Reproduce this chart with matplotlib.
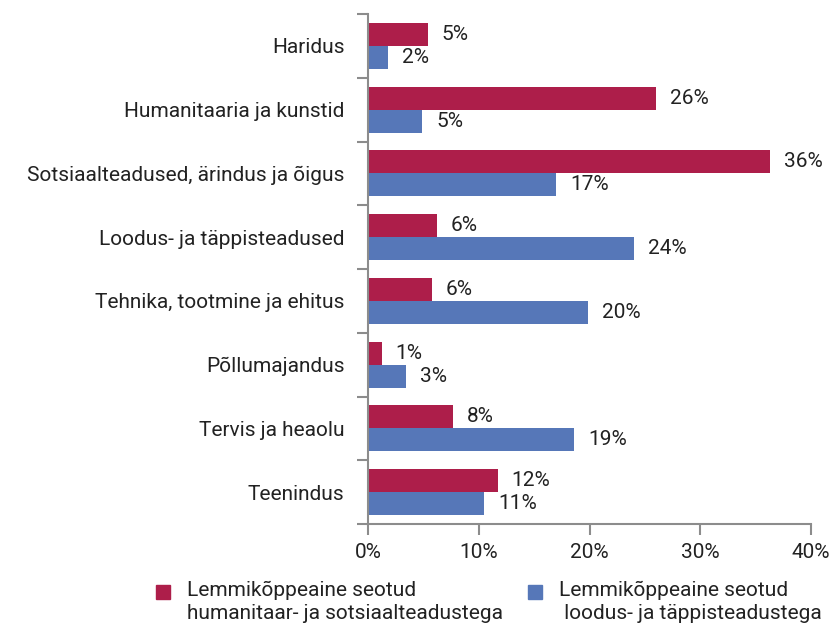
import numpy as np
import matplotlib
matplotlib.use("Agg")
import matplotlib.pyplot as plt
from matplotlib.patches import Rectangle
from matplotlib.ticker import FixedLocator

categories = [
    "Haridus",
    "Humanitaaria ja kunstid",
    "Sotsiaalteadused, ärindus ja õigus",
    "Loodus- ja täppisteadused",
    "Tehnika, tootmine ja ehitus",
    "Põllumajandus",
    "Tervis ja heaolu",
    "Teenindus",
]
hum_values = [5.4, 26.0, 36.3, 6.2, 5.75, 1.24, 7.65, 11.7]
nat_values = [1.8, 4.9, 17.0, 24.0, 19.9, 3.4, 18.6, 10.5]
hum_labels = ["5%", "26%", "36%", "6%", "6%", "1%", "8%", "12%"]
nat_labels = ["2%", "5%", "17%", "24%", "20%", "3%", "19%", "11%"]
series_names = [
    "Lemmikõppeaine seotud\nhumanitaar- ja sotsiaalteadustega",
    "Lemmikõppeaine seotud\n loodus- ja täppisteadustega",
]
xticks = [0, 10, 20, 30, 40]

RED = "#ad1e4a"
BLUE = "#5677b8"
GREY = "#8c8c8c"
TEXT = "#222222"
FS = 15

plt.rcParams["font.family"] = ["Roboto", "DejaVu Sans"]
plt.rcParams["font.size"] = FS

W, H = 831, 629
fig = plt.figure(figsize=(W / 100, H / 100), dpi=100)
ax = fig.add_axes([368 / W, 1 - 524 / H, 443 / W, 510 / H])

n = len(categories)
pos = np.arange(n)
h = 0.36
bars_h = ax.barh(pos - h / 2, hum_values, height=h, color=RED)
bars_n = ax.barh(pos + h / 2, nat_values, height=h, color=BLUE)
ax.bar_label(bars_h, labels=hum_labels, padding=10, color=TEXT, fontsize=FS)
ax.bar_label(bars_n, labels=nat_labels, padding=10, color=TEXT, fontsize=FS)

ax.set_ylim(n - 0.5, -0.5)
ax.set_xlim(0, 40)
ax.set_xticks(xticks)
ax.set_xticklabels([f"{t}%" for t in xticks], color=TEXT)

# category boundaries as major ticks, names on minor ticks
ax.yaxis.set_major_locator(FixedLocator(np.arange(-0.5, n, 1.0)))
ax.yaxis.set_major_formatter(plt.NullFormatter())
ax.yaxis.set_minor_locator(FixedLocator(pos))
ax.set_yticklabels(categories, minor=True, color=TEXT)
ax.tick_params(axis="y", which="minor", length=0, pad=17)
ax.tick_params(axis="y", which="major", length=8, width=1.5, color=GREY)
ax.tick_params(axis="x", length=8, width=1.5, color=GREY, pad=6)

for side in ["top", "right"]:
    ax.spines[side].set_visible(False)
for side in ["left", "bottom"]:
    ax.spines[side].set_color(GREY)
    ax.spines[side].set_linewidth(1.5)

# legend: square next to the first line of a two-line label
for (sx, tx), color, name in zip([(156, 187), (528, 559)], [RED, BLUE], series_names):
    fig.add_artist(Rectangle((sx / W, 1 - 599 / H), 14 / W, 14 / H,
                             transform=fig.transFigure, color=color))
    fig.text(tx / W, 1 - 581 / H, name, va="top", ha="left",
             color=TEXT, fontsize=FS, linespacing=1.25)

fig.savefig("out.png", dpi=100)
